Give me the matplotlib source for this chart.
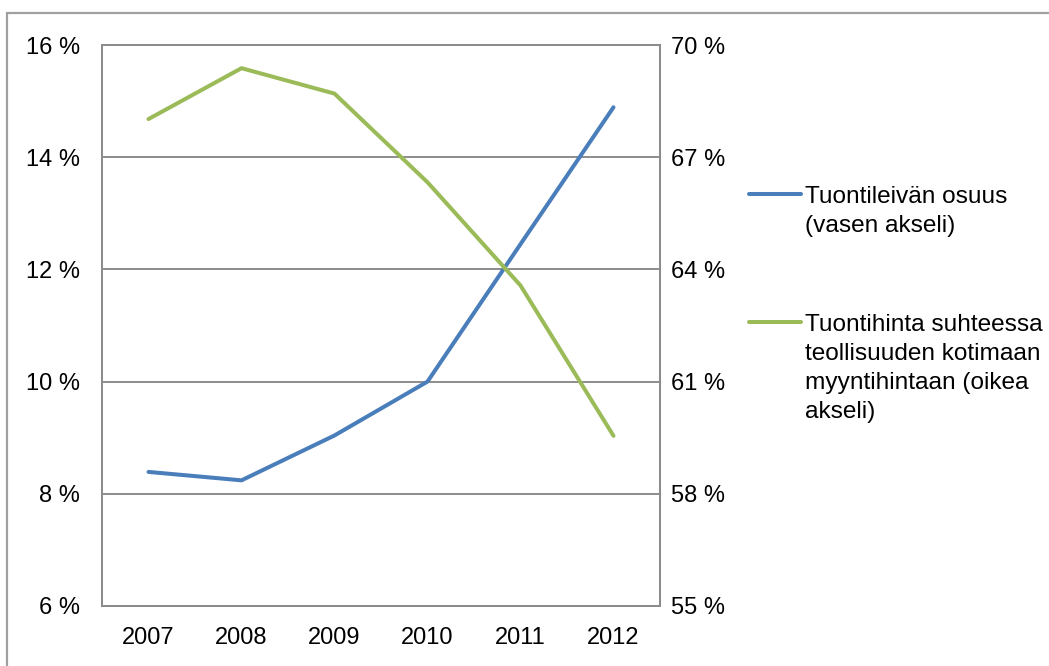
import matplotlib
matplotlib.use("Agg")
import matplotlib.pyplot as plt
from matplotlib.lines import Line2D
from matplotlib.patches import Rectangle
from matplotlib.ticker import FuncFormatter

years = ["2007", "2008", "2009", "2010", "2011", "2012"]
import_share = [8.39, 8.24, 9.04, 10.0, 12.45, 14.89]          # left axis, %
relative_price = [68.02, 69.38, 68.70, 66.33, 63.57, 59.55]    # right axis, %
left_ticks = [6, 8, 10, 12, 14, 16]
right_ticks = [55, 58, 61, 64, 67, 70]
label_blue = "Tuontileivän osuus\n(vasen akseli)"
label_green = "Tuontihinta suhteessa\nteollisuuden kotimaan\nmyyntihintaan (oikea\nakseli)"

BLUE = "#4A7EBB"
GREEN = "#9BBB59"
GRID = "#8C8C8C"
FONT = "Liberation Sans"
FS = 17
LFS = 17.6

plt.rcParams["font.family"] = [FONT, "DejaVu Sans"]

W, H = 1049, 666
fig = plt.figure(figsize=(W / 100, H / 100), dpi=100)

# outer chart frame
fig.patches.append(Rectangle((7 / W, -0.05), 1.2, (H - 13) / H + 0.05,
                             transform=fig.transFigure, fill=False,
                             edgecolor="#A0A0A0", linewidth=1.6, zorder=0))

ax = fig.add_axes([102 / W, 1 - 606 / H, (660 - 102) / W, (606 - 45) / H])
x = list(range(len(years)))
ax.plot(x, import_share, color=BLUE, linewidth=2.9, solid_capstyle="round",
        solid_joinstyle="round", zorder=3)
ax.set_xlim(-0.5, len(years) - 0.5)
ax.set_ylim(6, 16)
ax.set_yticks(left_ticks)
ax.yaxis.set_major_formatter(FuncFormatter(lambda v, p: f"{v:.0f} %"))
ax.set_xticks(x)
ax.set_xticklabels(years)
ax.grid(axis="y", color=GRID, linewidth=1.4)
ax.set_axisbelow(True)
for s in ax.spines.values():
    s.set_color(GRID)
    s.set_linewidth(1.4)
ax.tick_params(axis="both", length=0, labelsize=FS)
ax.tick_params(axis="y", pad=16)
ax.tick_params(axis="x", pad=15)

ax2 = ax.twinx()
ax2.plot(x, relative_price, color=GREEN, linewidth=2.9, solid_capstyle="round",
         solid_joinstyle="round", zorder=3)
ax2.set_ylim(55, 70)
ax2.set_yticks(right_ticks)
ax2.yaxis.set_major_formatter(FuncFormatter(lambda v, p: f"{v:.0f} %"))
ax2.tick_params(axis="y", length=0, labelsize=FS, pad=8)
for s in ax2.spines.values():
    s.set_color(GRID)
    s.set_linewidth(1.4)

# manual legend (handle aligned with the first text line)
LINE_STEP = 29  # px between text lines
def legend_entry(y_px, color, text):
    fig.add_artist(Line2D([749 / W, 801 / W], [1 - y_px / H, 1 - y_px / H],
                          transform=fig.transFigure, color=color, linewidth=2.9,
                          solid_capstyle="round"))
    n = text.count("\n")
    last_baseline = y_px + 9 + n * LINE_STEP
    fig.text(805 / W, 1 - last_baseline / H, text, ha="left", va="baseline",
             fontsize=LFS, linespacing=1.42, color="black")

legend_entry(194, BLUE, label_blue)
legend_entry(322, GREEN, label_green)

fig.savefig("out.png", dpi=100)
